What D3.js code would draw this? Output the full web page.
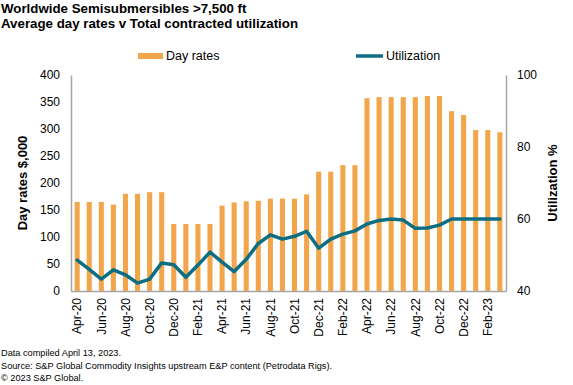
<!DOCTYPE html>
<html>
<head>
<meta charset="utf-8">
<script src="https://cdn.jsdelivr.net/npm/d3@7"></script>
<style>
  body { margin: 0; background: #fff; }
  text { font-family: Arial, "Liberation Sans", sans-serif; fill: #000; }
</style>
</head>
<body>
<script>
// monthly data Apr-20 .. Mar-23
const months = ["Apr-20","May-20","Jun-20","Jul-20","Aug-20","Sep-20","Oct-20","Nov-20","Dec-20",
  "Jan-21","Feb-21","Mar-21","Apr-21","May-21","Jun-21","Jul-21","Aug-21","Sep-21","Oct-21","Nov-21","Dec-21",
  "Jan-22","Feb-22","Mar-22","Apr-22","May-22","Jun-22","Jul-22","Aug-22","Sep-22","Oct-22","Nov-22","Dec-22",
  "Jan-23","Feb-23","Mar-23"];
const dayRates = [165,165,165,160,180,180,183,183,124,124,124,124,158,164,166,167,171,171,171,179,221,221,233,233,
  357,359,359,359,359,361,361,333,326,298,298,294];
const utilization = [48.6,46.0,43.3,45.9,44.5,42.2,43.3,47.8,47.3,43.8,47.2,50.8,48.0,45.4,48.8,53.2,55.6,54.4,55.2,56.6,
  51.9,54.4,55.8,56.7,58.6,59.6,60,59.7,57.4,57.5,58.3,60,60,60,60,60];
const leftTicks = [0,50,100,150,200,250,300,350,400];
const rightTicks = [40,60,80,100];

const W = 573, H = 385;
const m = {left: 71, right: 506, top: 75, bottom: 291};
const orange = "#F2A54A", teal = "#0C6E83";

const svg = d3.select("body").append("svg")
    .attr("width", W).attr("height", H);

const x = d3.scaleBand().domain(months).range([m.left, m.right]).paddingInner(0.58).paddingOuter(0.3);
const yL = d3.scaleLinear().domain([0,400]).range([m.bottom, m.top]);
const yR = d3.scaleLinear().domain([40,100]).range([m.bottom, m.top]);

// title
svg.append("text").attr("x", 1).attr("y", 13)
    .style("font-weight","bold").style("font-size","13.3px")
    .text("Worldwide Semisubmersibles >7,500 ft");
svg.append("text").attr("x", 1).attr("y", 28)
    .style("font-weight","bold").style("font-size","13.3px")
    .text("Average day rates v Total contracted utilization");

// legend
svg.append("rect").attr("x",138).attr("y",53).attr("width",25).attr("height",6).attr("fill",orange);
svg.append("text").attr("x",166).attr("y",60).style("font-size","12.5px").text("Day rates");
svg.append("line").attr("x1",356).attr("x2",383).attr("y1",56).attr("y2",56)
    .attr("stroke",teal).attr("stroke-width",3.5);
svg.append("text").attr("x",386).attr("y",60).style("font-size","12.5px").text("Utilization");

// bars
svg.selectAll("rect.bar").data(dayRates).enter().append("rect")
    .attr("class","bar")
    .attr("x", (d,i) => x(months[i]))
    .attr("width", x.bandwidth())
    .attr("y", d => yL(d))
    .attr("height", d => yL(0) - yL(d))
    .attr("fill", orange);

// axes
const axL = svg.append("g").attr("transform","translate(" + m.left + ",0)")
    .call(d3.axisLeft(yL).tickValues(leftTicks).tickSize(0).tickPadding(11));
const axR = svg.append("g").attr("transform","translate(" + m.right + ",0)")
    .call(d3.axisRight(yR).tickValues(rightTicks).tickSize(0).tickPadding(11));
const axB = svg.append("g").attr("transform","translate(0," + m.bottom + ")")
    .call(d3.axisBottom(x).tickValues(months.filter((d,i) => i % 2 == 0)).tickSize(0));

[axL, axR, axB].forEach(g => {
  g.select(".domain").attr("stroke","#a6a6a6").attr("stroke-width",1.5);
  g.selectAll("text").style("font-size","12px").attr("font-family", null);
});
axB.selectAll("text")
    .attr("transform","rotate(-90)")
    .attr("x", -7).attr("y", 0).attr("dy","0.35em")
    .style("text-anchor","end");

// line
const line = d3.line()
    .x((d,i) => x(months[i]) + x.bandwidth()/2)
    .y(d => yR(d));
svg.append("path").datum(utilization)
    .attr("d", line)
    .attr("fill","none").attr("stroke",teal).attr("stroke-width",3.5)
    .attr("stroke-linejoin","round").attr("stroke-linecap","round");

// axis titles
svg.append("text").attr("transform","translate(27,183) rotate(-90)")
    .style("text-anchor","middle").style("font-weight","bold").style("font-size","13px")
    .text("Day rates $,000");
svg.append("text").attr("transform","translate(557,183) rotate(-90)")
    .style("text-anchor","middle").style("font-weight","bold").style("font-size","13px")
    .text("Utilization %");

// footer
const foot = ["Data compiled April 13, 2023.",
  "Source: S&P Global Commodity Insights upstream E&P content (Petrodata Rigs).",
  "\u00a9 2023 S&P Global."];
svg.selectAll("text.foot").data(foot).enter().append("text")
    .attr("class","foot")
    .attr("x", 1).attr("y", (d,i) => 356 + i*12.5)
    .style("font-size","9.2px")
    .text(d => d);
</script>
</body>
</html>
